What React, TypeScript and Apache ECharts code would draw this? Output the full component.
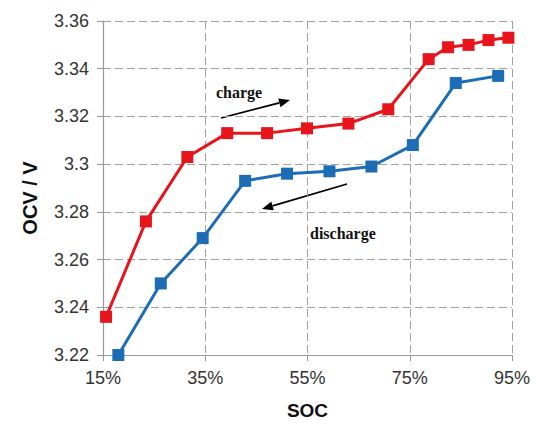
import React, { useRef, useEffect } from "react";
import * as echarts from "echarts";

// SOC offset: the x axis runs 15%..95%, ticks every 20%, so data is plotted from 0
const SOC_MIN = 15;
const SOC_MAX = 95;
const SOC_STEP = 20;

const chargeSoc = [15.6, 23.4, 31.5, 39.3, 47.1, 54.9, 63.0, 70.8, 78.7, 82.5, 86.5, 90.4, 94.3];
const chargeOcv = [3.236, 3.276, 3.303, 3.313, 3.313, 3.315, 3.317, 3.323, 3.344, 3.349, 3.35, 3.352, 3.353];

const dischargeSoc = [18.0, 26.3, 34.5, 42.8, 51.0, 59.3, 67.5, 75.6, 84.0, 92.3];
const dischargeOcv = [3.22, 3.25, 3.269, 3.293, 3.296, 3.297, 3.299, 3.308, 3.334, 3.337];

const OCV_MIN = 3.22;
const OCV_MAX = 3.36;
const OCV_STEP = 0.02;

const RED = "#e8141c";
const BLUE = "#1c6db5";
const GRID_GRAY = "#a0a0a0";
const SANS = "Liberation Sans, Arial, sans-serif";
const SERIF = "'Liberation Serif', 'Times New Roman', serif";

// line with a filled arrowhead at (x2, y2)
function arrow(x1: number, y1: number, x2: number, y2: number) {
  const dx = x2 - x1;
  const dy = y2 - y1;
  const len = Math.sqrt(dx * dx + dy * dy);
  const ux = dx / len;
  const uy = dy / len;
  const head = 11;
  const half = 4.5;
  const bx = x2 - ux * head;
  const by = y2 - uy * head;
  return [
    {
      type: "line",
      shape: { x1, y1, x2: bx, y2: by },
      style: { stroke: "#000", lineWidth: 1.8 },
    },
    {
      type: "polygon",
      shape: {
        points: [
          [x2, y2],
          [bx - uy * half, by + ux * half],
          [bx + uy * half, by - ux * half],
        ],
      },
      style: { fill: "#000" },
    },
  ];
}

const pairs = (xs: number[], ys: number[]) => xs.map((x, i) => [x - SOC_MIN, ys[i]]);

const App = () => {
  const chartRef = useRef<HTMLDivElement>(null);

  useEffect(() => {
    const chart = echarts.init(chartRef.current, null, { renderer: "svg" });
    const option: any = {
      animation: false,
      backgroundColor: "#fff",
      grid: { left: 103, top: 21, right: 38, bottom: 65 },
      xAxis: {
        type: "value",
        min: 0,
        max: SOC_MAX - SOC_MIN,
        interval: SOC_STEP,
        name: "SOC",
        nameLocation: "middle",
        nameGap: 46,
        nameTextStyle: { fontFamily: SANS, fontWeight: "bold", fontSize: 19, color: "#111" },
        axisLine: { show: true, lineStyle: { color: "#999", width: 1.2 } },
        axisTick: { show: true, length: 6, lineStyle: { color: "#999" } },
        axisLabel: {
          margin: 14,
          fontFamily: SANS,
          fontSize: 18,
          color: "#333",
          formatter: (v: number) => `${v + SOC_MIN}%`,
        },
        splitLine: { show: true, lineStyle: { color: GRID_GRAY, type: [8, 4], width: 1 } },
      },
      yAxis: {
        type: "value",
        min: OCV_MIN,
        max: OCV_MAX,
        interval: OCV_STEP,
        axisLine: { show: true, lineStyle: { color: "#999", width: 1.2 } },
        axisTick: { show: true, length: 6, lineStyle: { color: "#999" } },
        axisLabel: {
          margin: 14,
          fontFamily: SANS,
          fontSize: 18,
          color: "#333",
        },
        splitLine: { show: true, lineStyle: { color: GRID_GRAY, type: [8, 4], width: 1 } },
      },
      series: [
        {
          name: "charge",
          type: "line",
          data: pairs(chargeSoc, chargeOcv),
          symbol: "rect",
          symbolSize: 12,
          clip: false,
          lineStyle: { color: RED, width: 3 },
          itemStyle: { color: RED },
        },
        {
          name: "discharge",
          type: "line",
          data: pairs(dischargeSoc, dischargeOcv),
          symbol: "rect",
          symbolSize: 12,
          clip: false,
          lineStyle: { color: BLUE, width: 3 },
          itemStyle: { color: BLUE },
        },
      ],
      graphic: [
        {
          type: "text",
          x: 30,
          y: 198,
          rotation: Math.PI / 2,
          style: {
            text: "OCV / V",
            font: `bold 20px ${SANS}`,
            fill: "#111",
            align: "center",
            verticalAlign: "middle",
          },
        },
        {
          type: "text",
          left: 216,
          top: 84,
          style: { text: "charge", font: `bold 16px ${SERIF}`, fill: "#111" },
        },
        {
          type: "text",
          left: 310,
          top: 225,
          style: { text: "discharge", font: `bold 16px ${SERIF}`, fill: "#111" },
        },
        ...arrow(221, 118, 290, 100),
        ...arrow(347, 184, 262, 209),
      ],
    };
    chart.setOption(option);
    return () => {
      chart.dispose();
    };
  }, []);

  return (
    <div
      ref={chartRef}
      style={{ position: "fixed", left: 0, top: 0, width: 550, height: 425, background: "#fff" }}
    />
  );
};

export default App;
